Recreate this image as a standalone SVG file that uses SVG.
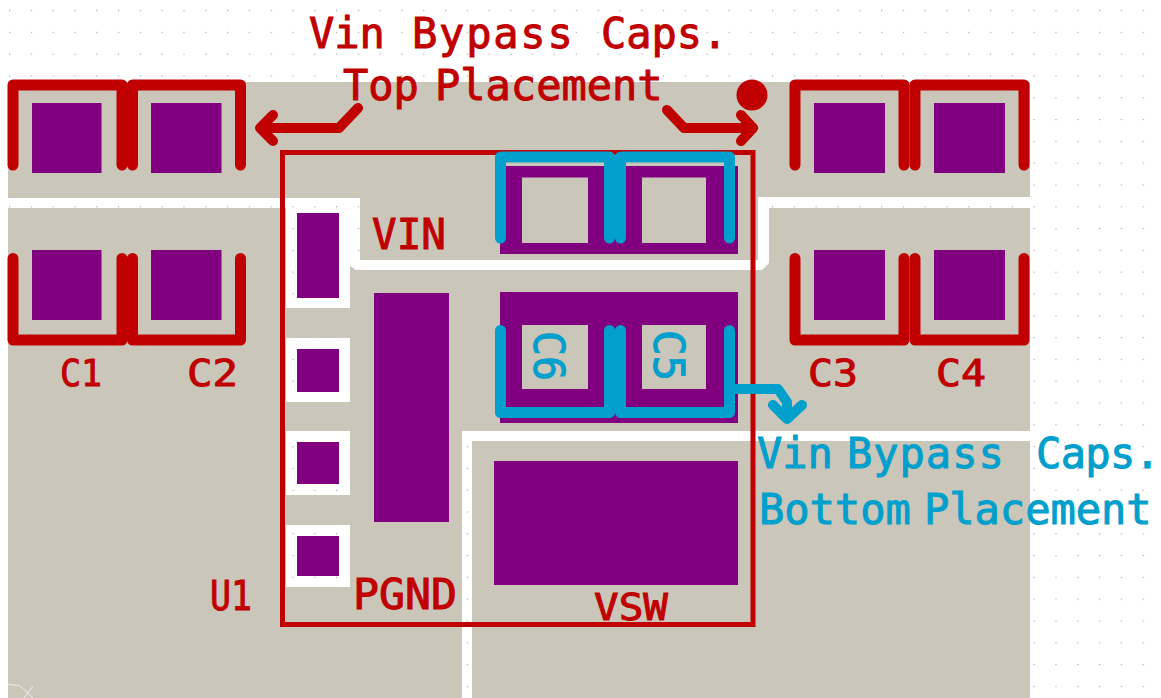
<svg xmlns="http://www.w3.org/2000/svg" width="1161" height="698" viewBox="0 0 1161 698">
<style>
.plane{fill:#cac6ba}
.pad{fill:#800080}
.red{fill:none;stroke:#c00000;stroke-width:11;stroke-linecap:round;stroke-linejoin:round}
.blue{fill:none;stroke:#009fcc;stroke-width:11;stroke-linecap:round;stroke-linejoin:round}
.arrow{stroke-width:10}
text{font-family:"DejaVu Sans Mono","Liberation Mono",monospace;font-size:42px}
.tr{fill:#c00000;stroke:#c00000;stroke-width:1}
.tb{fill:#009fcc;stroke:#009fcc;stroke-width:1}
.sp{font-size:6px}
</style>
<defs>
<pattern id="grid" x="9" y="10" width="21.8" height="21.8" patternUnits="userSpaceOnUse"><rect width="1.2" height="1.2" fill="#a8a8a8"/></pattern>
</defs>
<rect width="1161" height="698" fill="#fff"/>
<rect width="1161" height="698" fill="url(#grid)"/>
<g id="copper">
<path class="plane" d="M8 82H1030V197H758V260H360V198H8Z"/>
<path class="plane" fill-rule="evenodd" d="M8 208H286V308H350V266L356 270H762L769 263V208H1030V431H462V698H8ZM286 338V402H350V338ZM286 431V495H350V431ZM286 525V587H350V525Z"/>
<path class="plane" d="M472 441H1030V698H472Z"/>
<path d="M8 684L20 686L33 698M24 698L33 686" fill="none" stroke="#eee" stroke-width="1"/>
</g>
<g id="C1"><rect class="pad" x="32" y="103" width="69.500" height="70"/><rect class="pad" x="32" y="250" width="69.500" height="70"/><path class="red" d="M13 165V85H122V165M13 258.500V340H122V258.500"/><text class="tr" x="60" y="386" style="font-size:38px" textLength="42" lengthAdjust="spacingAndGlyphs">C1</text></g>
<g id="C2"><rect class="pad" x="151" y="103" width="70.500" height="70"/><rect class="pad" x="151" y="250" width="70.500" height="70"/><path class="red" d="M132.500 165V85H240.500V165M132.500 258.500V340H240.500V258.500"/><text class="tr" x="187" y="386" style="font-size:38px" textLength="51" lengthAdjust="spacingAndGlyphs">C2</text></g>
<g id="C3"><rect class="pad" x="814" y="103" width="71" height="70"/><rect class="pad" x="814" y="250" width="71" height="70"/><path class="red" d="M795 165V85H904V165M795 258.500V340H904V258.500"/><text class="tr" x="808" y="386" style="font-size:38px" textLength="50" lengthAdjust="spacingAndGlyphs">C3</text></g>
<g id="C4"><rect class="pad" x="934" y="103" width="71" height="70"/><rect class="pad" x="934" y="250" width="71" height="70"/><path class="red" d="M915 165V85H1024V165M915 258.500V340H1024V258.500"/><text class="tr" x="936" y="386" style="font-size:38px" textLength="50" lengthAdjust="spacingAndGlyphs">C4</text></g>
<g id="U1">
<rect class="pad" x="297" y="213" width="42" height="85"/>
<rect class="pad" x="297" y="349" width="42" height="43"/>
<rect class="pad" x="297" y="442" width="42" height="42"/>
<rect class="pad" x="297" y="536" width="42" height="40"/>
<rect class="pad" x="374" y="293" width="75" height="229"/>
<rect class="pad" x="494" y="461" width="244" height="124"/>
<rect x="282.500" y="152.500" width="470.500" height="472" fill="none" stroke="#c00000" stroke-width="5"/>
<circle cx="752" cy="95" r="15.500" fill="#c00000"/>
<text class="tr" x="210" y="610" style="font-size:40px" textLength="42" lengthAdjust="spacingAndGlyphs">U1</text>
<text class="tr" x="353" y="609" style="font-size:42px" textLength="104" lengthAdjust="spacingAndGlyphs">PGND</text>
<text class="tr" x="372" y="249" style="font-size:42px" textLength="74" lengthAdjust="spacingAndGlyphs">VIN</text>
<text class="tr" x="594" y="620" style="font-size:38px" textLength="74" lengthAdjust="spacingAndGlyphs">VSW</text>
</g>
<g id="C6C5-pads">
<path class="pad" fill-rule="evenodd" d="M500 166H738V254H500ZM522 177.500V243H588V177.500ZM642 177.500V243H706V177.500Z"/>
<path class="pad" fill-rule="evenodd" d="M500 292H738V423H500ZM522 325V389H588V325ZM642 325V389H706V325Z"/>
</g>
<g id="C6"><path class="blue" d="M500.500 238V157H609.500V238M500.500 330.500V412.500H609.500V330.500"/><text class="tb" transform="translate(534 331) rotate(90)" style="font-size:42px" textLength="50" lengthAdjust="spacingAndGlyphs">C6</text></g>
<g id="C5"><path class="blue" d="M620.500 238V157H729.500V238M620.500 330.500V412.500H729.500V330.500"/><text class="tb" transform="translate(654 330) rotate(90)" style="font-size:42px" textLength="51" lengthAdjust="spacingAndGlyphs">C5</text></g>
<g id="connectors">
<path class="red arrow" d="M358 108L339 128H260M273 115L260 128L273 141"/>
<path class="red arrow" d="M667 110L684 128H751M741 115L753 128L741 141"/>
<path class="blue arrow" d="M735 389H778L787 402V416M773 405L787 419L802 405"/>
</g>
<g id="labels">
<text class="tr" y="48"><tspan x="309">Vin</tspan><tspan class="sp"> </tspan><tspan x="412" style="letter-spacing:1.8px">Bypass</tspan><tspan class="sp"> </tspan><tspan x="601">Caps.</tspan></text>
<text class="tr" y="100"><tspan x="343">Top</tspan><tspan class="sp"> </tspan><tspan x="435">Placement</tspan></text>
<text class="tb" y="468"><tspan x="757">Vin</tspan><tspan class="sp"> </tspan><tspan x="847" style="letter-spacing:1px">Bypass</tspan><tspan class="sp"> </tspan><tspan x="1036" style="letter-spacing:-0.600px">Caps.</tspan></text>
<text class="tb" y="524"><tspan x="759">Bottom</tspan><tspan class="sp"> </tspan><tspan x="924">Placement</tspan></text>
</g>
</svg>
